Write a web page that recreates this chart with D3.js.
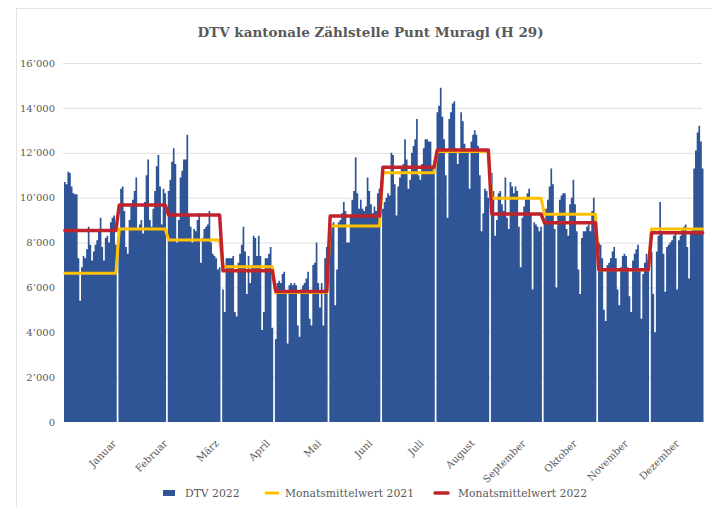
<!DOCTYPE html>
<html>
<head>
<meta charset="utf-8">
<script src="https://cdn.jsdelivr.net/npm/d3@7"></script>
<style>
  body { margin: 0; background: #fff; }
  svg { display: block; }
  text { font-family: 'DejaVu Serif', Georgia, serif; fill: #595959; }
</style>
</head>
<body>
<div id="chart"></div>
<script>
// month labels and daily counts (DTV 2022)
const months = ['Januar', 'Februar', 'März', 'April', 'Mai', 'Juni', 'Juli',
  'August', 'September', 'Oktober', 'November', 'Dezember'];

const jan = [10700, 10600, 11150, 11100, 10500, 10200, 10150, 10150, 7300, 5400,
  6900, 7400, 7300, 7700, 8700, 7900, 7200, 7600, 7900, 8100,
  8600, 9100, 7800, 7200, 8200, 8300, 8000, 8900, 9100, 9200, 7900];
const feb = [8600, 10400, 10500, 9400, 7800, 7500, 9000, 9600, 9900, 10300,
  10900, 8600, 8800, 9000, 8400, 9800, 11000, 11700, 9000, 8700,
  9500, 10300, 11400, 11900, 10500, 8800, 10400, 10200];
const mar = [10300, 10800, 11600, 12200, 11500, 8000, 9000, 10900, 11200, 11700,
  11700, 12800, 9200, 8700, 8000, 8600, 8500, 9000, 9300, 7100,
  8200, 8600, 8700, 8800, 9400, 8000, 7500, 7400, 7300, 6800, 6900];
const apr = [5900, 4900, 7300, 7300, 7300, 7300, 7400, 4900, 4700, 7100,
  7500, 7900, 8700, 7600, 5700, 7400, 6200, 7000, 8300, 8200,
  7400, 8300, 7400, 4100, 4900, 7300, 7300, 7500, 7800, 4200];
const may = [3700, 6200, 6300, 6200, 6600, 6700, 5700, 3500, 6100, 6200,
  6100, 6200, 6100, 4300, 3800, 5900, 6100, 6200, 6400, 6700,
  4600, 4300, 7000, 7100, 8000, 6200, 5100, 6200, 4300, 7300, 7800];
const jun = [8900, 8800, 8900, 5200, 6800, 8900, 9000, 9300, 9800, 9400,
  8000, 8000, 9200, 9900, 10300, 11800, 10200, 9500, 9900, 9500,
  9400, 9600, 10900, 10300, 9700, 9300, 9600, 9400, 10200, 10400];
const jul = [9500, 9800, 10000, 10200, 10100, 12000, 11900, 10600, 9200, 10500,
  10900, 11300, 11500, 12600, 11700, 10400, 10800, 12000, 12300, 12600,
  13500, 11000, 10800, 11500, 12200, 12600, 12600, 12500, 12500, 11400, 11200];
const aug = [13800, 14100, 14900, 13600, 12600, 11000, 9100, 13500, 13800, 14200,
  14300, 12200, 11500, 12100, 13800, 13400, 12400, 12000, 12000, 10400,
  12500, 12800, 13000, 12800, 12300, 11000, 8500, 9300, 10400, 10300, 10000];
const sep = [11100, 10300, 8300, 9000, 10200, 10300, 9700, 9400, 10900, 9100,
  8600, 10700, 10500, 10200, 10500, 10300, 8700, 6900, 9100, 9600,
  9900, 10200, 10400, 9300, 5900, 8900, 8800, 8700, 8500, 8700];
const oct = [8900, 9500, 9900, 10500, 11300, 10600, 8600, 6000, 9200, 9900,
  10100, 10200, 10200, 8600, 8300, 9700, 10000, 10800, 9700, 8500,
  6800, 5700, 8200, 8500, 8500, 8700, 8800, 8500, 9400, 10000, 8500];
const nov = [8000, 7900, 7300, 5000, 4500, 7000, 7100, 7300, 7600, 7800,
  7300, 5900, 5200, 6900, 7400, 7500, 7400, 6900, 5600, 4900,
  7200, 7500, 7700, 7900, 6800, 4600, 6600, 7100, 7500, 7200];
const dec = [7600, 5700, 4000, 7600, 8300, 9800, 8400, 7500, 5800, 7800,
  7900, 8000, 8100, 8300, 8500, 5900, 8100, 8300, 8600, 8700,
  8800, 7800, 6400, 8500, 8600, 11300, 12100, 12900, 13200, 12500, 11300];

const dtv2022 = [jan, feb, mar, apr, may, jun, jul, aug, sep, oct, nov, dec];

// monthly means
const mean2021 = [6630, 8600, 8110, 6920, 5770, 8730, 11110, 12060, 9970, 9260, 6780, 8600];
const mean2022 = [8530, 9670, 9230, 6740, 5820, 9180, 11350, 12120, 9270, 8880, 6780, 8440];

const yTicks = [0, 2000, 4000, 6000, 8000, 10000, 12000, 14000, 16000];

const width = 712, height = 507;
const blue = '#2f5597', yellow = '#ffc000', red = '#c0232b';

// one empty category follows each month, like in the original sheet
const days = [];
const monthDays = [];
let slot = 0;
dtv2022.forEach((vals, m) => {
  const list = [];
  vals.forEach(v => {
    const d = { slot: slot, month: m, value: v };
    days.push(d);
    list.push(d);
    slot++;
  });
  // closing point so the last day keeps its full width
  list.push({ slot: slot, month: m, value: vals[vals.length - 1] });
  monthDays.push(list);
  slot++;
});
const nSlots = slot - 1;

const x = d3.scaleLinear().domain([0, nSlots]).range([64, 703.5]);
const y = d3.scaleLinear().domain([0, 16000]).range([422, 63]);
const xLab = d3.scalePoint().domain(months).range([118, 681]);

const fmt = d3.formatLocale({ decimal: '.', thousands: '’', grouping: [3], currency: ['', ''] }).format(',');

const svg = d3.select('#chart').append('svg')
  .attr('width', width)
  .attr('height', height);

// chart area frame
svg.append('rect')
  .attr('x', 16.5).attr('y', 8.5)
  .attr('width', 720).attr('height', 520)
  .attr('fill', 'none')
  .attr('stroke', '#e3e3e3');

svg.append('text')
  .attr('x', 370.5)
  .attr('y', 37)
  .attr('text-anchor', 'middle')
  .style('font-size', '13.5px')
  .style('font-weight', 'bold')
  .text('DTV kantonale Zählstelle Punt Muragl (H 29)');

// gridlines
svg.append('g')
  .selectAll('line')
  .data(yTicks.slice(1))
  .enter()
  .append('line')
  .attr('x1', 63).attr('x2', 702)
  .attr('y1', d => y(d) + 0.5).attr('y2', d => y(d) + 0.5)
  .attr('stroke', '#e0e0e0');

const yAxis = svg.append('g')
  .attr('transform', 'translate(63,0)')
  .call(d3.axisLeft(y).tickValues(yTicks).tickFormat(fmt).tickSize(0).tickPadding(8));
yAxis.select('.domain').remove();
yAxis.selectAll('text')
  .style('font-family', "'DejaVu Serif', serif")
  .style('font-size', '10px')
  .attr('fill', '#595959');

// daily columns, drawn as one stepped shape per month so they touch without seams
const bars = d3.area()
  .curve(d3.curveStepAfter)
  .x(d => x(d.slot))
  .y0(y(0))
  .y1(d => y(d.value));

svg.append('g')
  .selectAll('path')
  .data(monthDays)
  .enter()
  .append('path')
  .attr('d', bars)
  .attr('fill', blue);

// monthly mean steps
const line = d3.line()
  .x(d => x(d.slot + 0.5))
  .y(d => d.y);

[[mean2021, yellow, 3], [mean2022, red, 3.5]].forEach(([means, color, w]) => {
  svg.append('path')
    .datum(days.map(d => ({ slot: d.slot, y: y(means[d.month]) })))
    .attr('d', line)
    .attr('fill', 'none')
    .attr('stroke', color)
    .attr('stroke-width', w)
    .attr('stroke-linejoin', 'round')
    .attr('stroke-linecap', 'round');
});

// month labels
svg.append('g')
  .selectAll('text')
  .data(months)
  .enter()
  .append('text')
  .attr('transform', d => 'translate(' + (xLab(d) - 1) + ',444) rotate(-45)')
  .attr('text-anchor', 'end')
  .style('font-size', '10px')
  .text(d => d);

// legend
const legend = svg.append('g');
legend.append('rect')
  .attr('x', 163).attr('y', 490).attr('width', 12).attr('height', 6)
  .attr('fill', blue);
legend.append('text').attr('x', 185).attr('y', 497).style('font-size', '10.8px').text('DTV 2022');
legend.append('line')
  .attr('x1', 266).attr('x2', 278).attr('y1', 493).attr('y2', 493)
  .attr('stroke', yellow).attr('stroke-width', 3).attr('stroke-linecap', 'round');
legend.append('text').attr('x', 285).attr('y', 497).style('font-size', '10.8px').text('Monatsmittelwert 2021');
legend.append('line')
  .attr('x1', 435).attr('x2', 448).attr('y1', 493).attr('y2', 493)
  .attr('stroke', red).attr('stroke-width', 3.5).attr('stroke-linecap', 'round');
legend.append('text').attr('x', 458).attr('y', 497).style('font-size', '10.8px').text('Monatsmittelwert 2022');
</script>
</body>
</html>
